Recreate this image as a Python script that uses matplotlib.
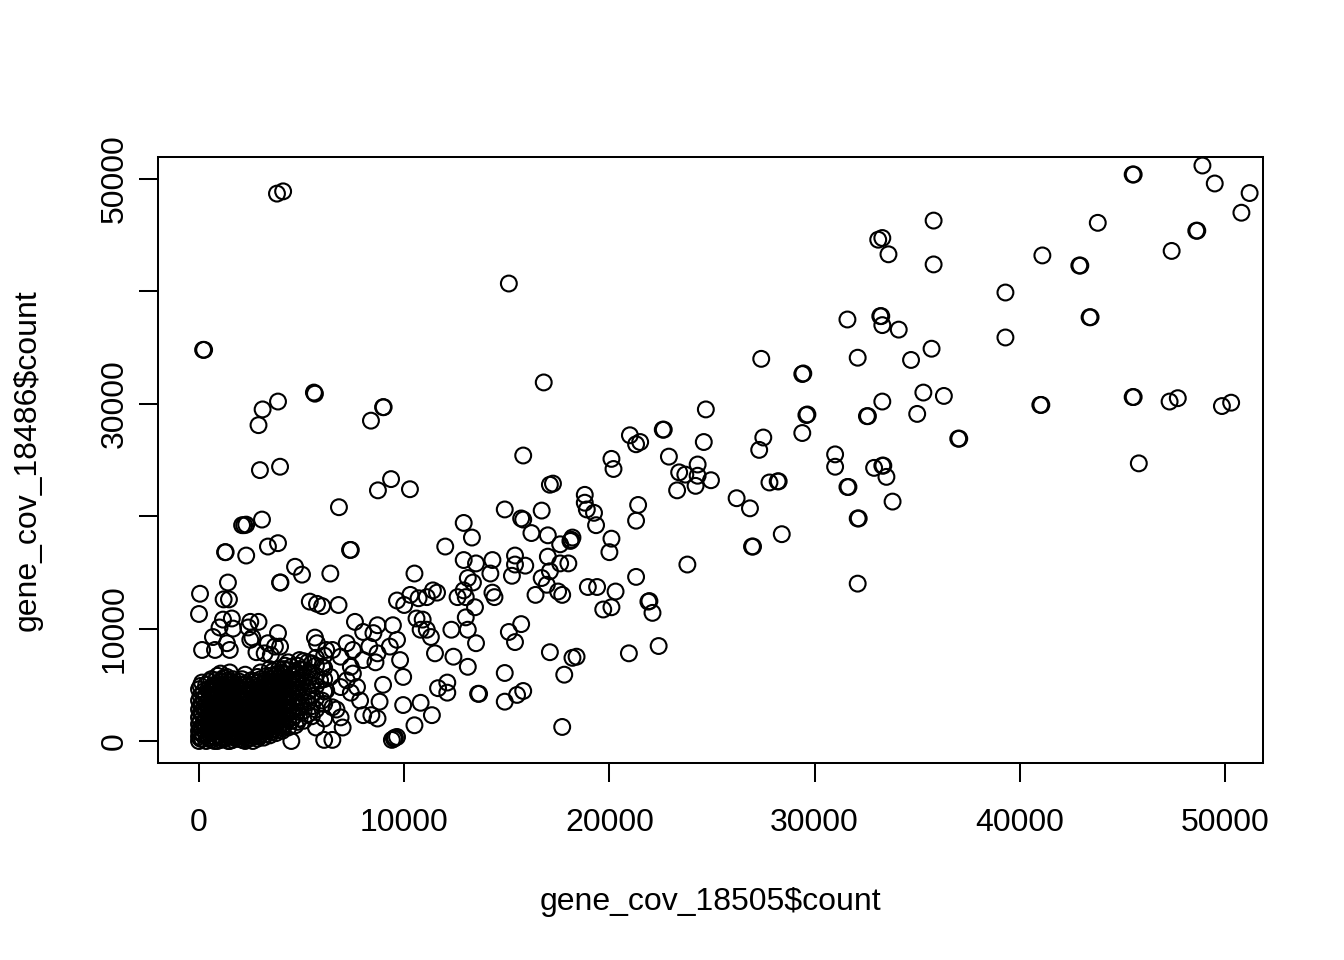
import numpy as np
import matplotlib
matplotlib.use("Agg")
import matplotlib.pyplot as plt

plt.rcParams['font.family'] = ['Liberation Sans', 'DejaVu Sans']

# nilai, dalam ribuan (x = 18505, y = 18486)

# titik terpencil di kiri atas (x kecil, y besar)
kiri_x = [3.8, 4.1, 0.2, 0.25, 2.9, 3.1, 3.85, 5.6, 5.65,
          2.97, 3.95, 8.38, 8.97, 9.0, 6.82, 8.72, 9.36, 10.28,
          2.1, 2.2, 2.3, 3.07, 1.27, 1.3, 2.3, 3.36, 3.85,
          7.36, 7.4, 4.68, 5.02, 3.95, 3.97, 1.41, 0.05, 1.2, 1.46,
          5.4, 5.75, 6.0, 0.0, 1.17, 1.6, 2.5, 2.9, 1.0, 1.66,
          2.4, 2.6, 3.85, 0.68, 0.15, 0.78, 1.36, 1.5, 2.5, 2.8,
          3.36, 3.7, 3.95, 3.2, 3.5, 5.65, 5.75, 6.4]
kiri_y = [48.7, 48.9, 34.8, 34.8, 28.1, 29.5, 30.2, 31.0, 30.9,
          24.1, 24.4, 28.5, 29.7, 29.7, 20.8, 22.3, 23.3, 22.4,
          19.2, 19.2, 19.25, 19.7, 16.8, 16.8, 16.5, 17.3, 17.6,
          17.0, 17.0, 15.5, 14.8, 14.1, 14.1, 14.1, 13.1, 12.6, 12.6,
          12.4, 12.2, 12.0, 11.3, 10.8, 10.9, 10.6, 10.6, 10.1, 10.0,
          10.1, 9.2, 9.6, 9.25, 8.1, 8.1, 8.7, 8.1, 9.0, 7.9,
          8.7, 8.4, 8.4, 7.8, 7.65, 9.2, 8.7, 14.9]

# pita 6k - 13k
pita_x = [10.5, 9.65, 10.0, 10.3, 10.7, 11.1, 11.4, 11.6,
          7.6, 8.7, 9.45, 9.65, 9.3, 10.6, 10.9, 10.8, 11.1, 11.3, 11.5,
          9.8, 9.95, 8.97, 11.65, 12.1, 12.1, 9.95, 10.8, 11.35, 10.5,
          9.65, 9.4, 9.5, 9.55, 8.8, 8.0, 8.4, 8.7, 6.5, 7.0,
          8.0, 8.5, 8.3, 8.7, 8.6, 8.0, 7.5, 7.2, 6.9, 6.5,
          6.2, 6.0, 6.4, 7.4, 7.5, 7.2, 7.7, 7.4, 7.85, 6.9,
          6.5, 6.9, 6.7, 6.0, 5.9, 6.2, 6.8, 12.0]
pita_y = [14.9, 12.5, 12.1, 13.0, 12.7, 12.8, 13.4, 13.2,
          10.6, 10.3, 10.3, 9.0, 8.4, 10.9, 10.8, 9.9, 9.9, 9.25, 7.8,
          7.2, 5.7, 5.0, 4.7, 5.2, 4.3, 3.2, 3.4, 2.3, 1.4,
          0.36, 0.1, 0.2, 0.3, 3.5, 2.3, 2.3, 2.0, 0.1, 1.2,
          9.7, 9.6, 8.4, 7.8, 7.0, 7.2, 8.1, 8.7, 7.5, 8.1,
          8.1, 6.6, 5.7, 6.6, 6.0, 5.4, 4.8, 4.3, 3.6, 4.8,
          3.0, 2.1, 2.8, 3.6, 5.4, 4.5, 12.1, 17.3]

# tengah 12k - 28k
tengah_x = [12.9, 13.3, 12.9, 13.5, 13.1, 13.35, 12.9, 12.6, 13.45, 13.0,
            13.0, 13.1, 13.5, 12.3, 12.4, 13.1, 13.6, 13.65, 14.9, 15.5,
            15.8, 14.9, 17.1, 18.2, 18.4, 17.8, 17.7, 15.1, 15.7, 15.4,
            14.3, 14.2, 14.4, 14.3, 15.4, 15.25, 15.9, 15.4, 16.7, 16.95,
            16.4, 17.5, 17.7, 18.95, 19.4, 20.3, 19.7, 20.1, 21.9, 21.95,
            22.1, 22.4, 20.95, 21.3, 20.1, 20.0, 17.0, 17.6, 17.1, 16.2,
            17.0, 17.6, 18.2, 18.1, 18.15, 18.0, 14.9, 15.7, 15.8, 16.7,
            21.4, 21.3, 18.8, 18.8, 18.9, 19.25, 19.35, 17.1, 17.25, 15.8,
            20.1, 20.2, 22.9, 23.4, 23.7, 24.3, 24.3, 24.95, 23.3, 24.2,
            26.2, 26.85, 27.8, 26.95, 27.0, 23.8, 21.0, 21.3, 21.5, 22.6,
            22.65, 24.6, 27.5, 27.3, 24.7, 16.8, 15.1, 27.4]
tengah_y = [19.4, 18.1, 16.1, 15.8, 14.5, 14.1, 13.4, 12.8, 11.9, 12.8,
            11.0, 9.9, 8.7, 9.9, 7.5, 6.6, 4.2, 4.2, 6.05, 4.1,
            4.45, 3.5, 7.9, 7.4, 7.5, 5.9, 1.25, 9.7, 10.4, 8.8,
            16.1, 14.9, 12.8, 13.2, 16.5, 14.7, 15.6, 15.7, 14.5, 13.9,
            13.0, 13.3, 13.0, 13.7, 13.7, 13.3, 11.7, 11.9, 12.4, 12.45,
            11.4, 8.45, 7.8, 14.6, 18.0, 16.8, 16.4, 15.8, 15.1, 18.5,
            18.3, 17.5, 18.1, 17.8, 17.9, 15.8, 20.6, 19.8, 19.7, 20.5,
            21.0, 19.6, 21.9, 21.2, 20.6, 20.3, 19.2, 22.8, 22.9, 25.4,
            25.1, 24.2, 25.3, 23.9, 23.7, 24.6, 23.6, 23.2, 22.3, 22.7,
            21.6, 20.7, 23.0, 17.3, 17.3, 15.7, 27.2, 26.4, 26.6, 27.7,
            27.7, 26.6, 27.0, 25.9, 29.5, 31.9, 40.7, 34.0]

# kanan > 28k
kanan_x = [28.2, 28.25, 28.4, 29.4, 29.6, 29.65, 29.4, 29.45, 31.0, 31.0,
           31.6, 31.65, 32.1, 32.15, 32.1, 32.9, 33.3, 33.35, 33.5, 33.8,
           32.55, 32.6, 33.3, 35.3, 36.3, 35.0, 37.0, 37.05, 32.1, 34.7,
           35.7, 31.6, 33.2, 33.25, 33.3, 34.1, 39.3, 39.3, 41.0, 41.05,
           33.1, 33.3, 33.6, 35.8, 35.8, 41.1, 42.9, 42.95, 43.8, 47.4,
           48.6, 48.65, 45.5, 45.55, 48.9, 49.5, 51.2, 50.8, 43.4, 43.45,
           45.5, 45.55, 47.3, 47.7, 49.85, 50.3, 45.8]
kanan_y = [23.1, 23.1, 18.4, 27.4, 29.0, 29.05, 32.65, 32.7, 25.5, 24.4,
           22.6, 22.6, 19.8, 19.8, 14.0, 24.3, 24.5, 24.5, 23.5, 21.3,
           28.9, 28.9, 30.2, 31.0, 30.7, 29.1, 26.9, 26.9, 34.1, 33.9,
           34.9, 37.5, 37.8, 37.8, 37.0, 36.6, 39.9, 35.9, 29.9, 29.9,
           44.6, 44.75, 43.3, 46.3, 42.4, 43.2, 42.3, 42.3, 46.1, 43.6,
           45.4, 45.4, 50.4, 50.4, 51.2, 49.6, 48.75, 47.0, 37.7, 37.7,
           30.6, 30.6, 30.2, 30.5, 29.8, 30.1, 24.7]

# gumpalan padat dekat (0,0): kolom x -> daftar y
inti_kolom_x = [0.0, 0.15, 0.35, 0.6, 0.9, 1.2, 1.5, 1.8, 2.1, 2.4, 2.7,
                3.0, 3.3, 3.6, 3.9, 4.2, 4.5, 4.9, 5.3, 5.7, 6.1]
inti_kolom_y = [
    [0.0, 0.4, 0.9, 1.5, 2.1, 2.8, 3.6, 4.6],
    [0.2, 1.1, 2.4, 3.2, 5.2],
    [0.0, 0.6, 1.3, 1.9, 2.6, 3.4, 4.1, 5.0],
    [0.1, 0.7, 1.2, 1.8, 2.5, 3.1, 3.9, 4.6, 5.5],
    [0.0, 0.5, 1.0, 1.6, 2.2, 2.9, 3.5, 4.3, 5.1, 5.8],
    [0.2, 0.8, 1.4, 2.0, 2.7, 3.3, 4.0, 4.8, 5.6],
    [0.0, 0.6, 1.1, 1.7, 2.4, 3.0, 3.7, 4.4, 5.2, 6.1],
    [0.3, 0.9, 1.5, 2.1, 2.8, 3.5, 4.2, 5.0],
    [0.1, 0.7, 1.2, 1.9, 2.5, 3.2, 3.9, 4.6, 5.5],
    [0.2, 0.8, 1.4, 2.0, 2.7, 3.4, 4.1, 4.9],
    [0.4, 1.0, 1.6, 2.3, 2.9, 3.6, 4.4, 5.3],
    [0.6, 1.2, 1.8, 2.5, 3.1, 3.8, 4.6, 5.5, 6.1],
    [0.9, 1.5, 2.1, 2.8, 3.5, 4.2, 5.0, 5.8],
    [1.0, 1.7, 2.4, 3.0, 3.7, 4.5, 5.3, 6.2],
    [1.2, 1.9, 2.6, 3.3, 4.0, 4.8, 5.6, 6.4],
    [1.5, 2.2, 2.9, 3.6, 4.3, 5.1, 5.9, 6.7],
    [1.8, 2.6, 3.4, 4.2, 5.0, 5.8, 6.6, 0.0],
    [2.0, 3.0, 3.9, 4.7, 5.6, 6.4, 7.2],
    [2.4, 3.4, 4.4, 5.3, 6.1, 7.0],
    [1.2, 2.8, 3.8, 4.9, 5.8, 6.7, 7.4],
    [2.0, 3.3, 4.4, 5.5, 6.5, 7.6, 0.1],
]
# lapisan kedua, di sela-sela kolom pertama
inti2_kolom_x = [0.08, 0.5, 0.75, 1.05, 1.35, 1.65, 1.95, 2.25, 2.55,
                 2.85, 3.15, 3.45, 3.75, 4.05, 4.35, 4.7, 5.1]
inti2_kolom_y = [
    [0.2, 0.7, 1.2, 1.8, 2.5, 3.2, 4.0, 4.9],
    [0.3, 0.9, 1.5, 2.2, 2.9, 3.7, 4.4, 5.3],
    [0.0, 0.4, 1.0, 1.4, 2.0, 2.7, 3.3, 4.2, 5.0],
    [0.1, 0.5, 1.1, 1.7, 2.4, 3.1, 3.8, 4.5, 5.3, 6.0],
    [0.3, 0.9, 1.5, 2.2, 2.9, 3.5, 4.2, 5.0, 5.7],
    [0.1, 0.5, 1.2, 1.9, 2.6, 3.3, 3.9, 4.7, 5.5],
    [0.2, 0.6, 1.0, 1.7, 2.4, 3.0, 3.8, 4.5, 5.3],
    [0.0, 0.5, 1.0, 1.6, 2.3, 3.0, 3.6, 4.3, 5.1, 5.9],
    [0.3, 0.6, 1.1, 1.7, 2.4, 3.1, 3.8, 4.6, 5.4],
    [0.2, 0.7, 1.3, 2.0, 2.6, 3.3, 4.0, 4.8, 5.7],
    [0.3, 0.9, 1.5, 2.2, 2.8, 3.5, 4.3, 5.1],
    [0.5, 1.2, 1.8, 2.5, 3.2, 3.9, 4.7, 5.5, 6.4],
    [0.7, 1.4, 2.1, 2.7, 3.4, 4.2, 5.0, 5.8],
    [0.9, 1.6, 2.3, 3.0, 3.7, 4.5, 5.3, 6.1],
    [1.2, 1.9, 2.6, 3.3, 4.0, 4.7, 5.5, 6.3, 7.0],
    [1.4, 2.3, 3.1, 3.8, 4.6, 5.4, 6.2],
    [1.8, 2.7, 3.6, 4.5, 5.4, 6.3, 7.1],
]
# lapisan ketiga, paling rapat di sekitar 0-4k
inti3_kolom_x = [0.22, 0.45, 0.82, 1.12, 1.42, 1.72, 2.02, 2.32, 2.62,
                 2.92, 3.22, 3.52, 3.82, 4.12, 4.8, 5.5]
inti3_kolom_y = [
    [0.5, 1.6, 2.9, 3.8, 4.4],
    [0.3, 1.0, 2.3, 3.0, 4.6],
    [0.3, 1.3, 2.5, 3.7, 4.7, 5.4],
    [0.3, 1.3, 2.1, 2.8, 3.5, 4.2, 5.0],
    [0.0, 0.6, 1.9, 2.6, 3.8, 4.6, 5.4],
    [0.3, 0.8, 1.5, 2.3, 3.6, 4.3, 5.1],
    [0.4, 1.4, 2.1, 2.7, 3.5, 4.2, 5.0],
    [0.2, 0.8, 1.3, 2.0, 2.7, 3.3, 4.0, 4.8],
    [0.0, 0.9, 1.5, 2.1, 2.8, 3.5, 4.2, 5.0],
    [0.4, 1.0, 1.7, 2.3, 3.0, 3.7, 4.4, 5.2],
    [0.6, 1.2, 1.9, 2.5, 3.2, 3.9, 4.6, 5.4],
    [0.8, 1.5, 2.2, 2.8, 3.5, 4.1, 4.9, 5.8],
    [1.0, 1.7, 2.3, 3.0, 3.8, 4.4, 5.2, 6.0],
    [1.3, 2.0, 2.7, 3.4, 4.1, 4.9, 5.6, 6.4],
    [1.7, 2.6, 3.5, 4.3, 5.1, 5.9, 6.7],
    [2.2, 3.1, 4.0, 5.0, 6.0, 6.9],
]

inti_x, inti_y = [], []
for kol_x, kol_y in [(inti_kolom_x, inti_kolom_y),
                     (inti2_kolom_x, inti2_kolom_y),
                     (inti3_kolom_x, inti3_kolom_y)]:
    for cx, ys in zip(kol_x, kol_y):
        inti_x += [cx] * len(ys)
        inti_y += ys

x_k = np.array(inti_x + kiri_x + pita_x + tengah_x + kanan_x)
y_k = np.array(inti_y + kiri_y + pita_y + tengah_y + kanan_y)
cov_18505 = x_k * 1000
cov_18486 = y_k * 1000

ticks = [0, 10000, 20000, 30000, 40000, 50000]
xtick_lab = ["0", "10000", "20000", "30000", "40000", "50000"]
ytick_lab = ["0", "10000", "", "30000", "", "50000"]

fig = plt.figure(figsize=(13.44, 9.6), dpi=100)
ax = fig.add_axes([158/1344, 197/960, 1105/1344, 606/960])

ax.scatter(cov_18505, cov_18486, s=130, facecolors="none",
           edgecolors="black", linewidths=1.5)

ax.set_xlim(-1998, 51852)
ax.set_ylim(-1957, 51957)
ax.set_xticks(ticks)
ax.set_xticklabels(xtick_lab)
ax.set_yticks(ticks)
ax.set_yticklabels(ytick_lab, rotation=90, va="center")

for s in ax.spines.values():
    s.set_linewidth(1.45)
ax.tick_params(direction="out", length=13.5, width=1.45, labelsize=23)
ax.tick_params(axis="x", pad=19)
ax.tick_params(axis="y", pad=7)

ax.set_xlabel("gene_cov_18505$count", fontsize=23, va="center")
ax.xaxis.set_label_coords(0.5, (763 - 902) / 606)
ax.set_ylabel("gene_cov_18486$count", fontsize=23, va="center", ha="center")
ax.yaxis.set_label_coords((28 - 158) / 1105, 0.5)

fig.savefig("out.png", dpi=100)
